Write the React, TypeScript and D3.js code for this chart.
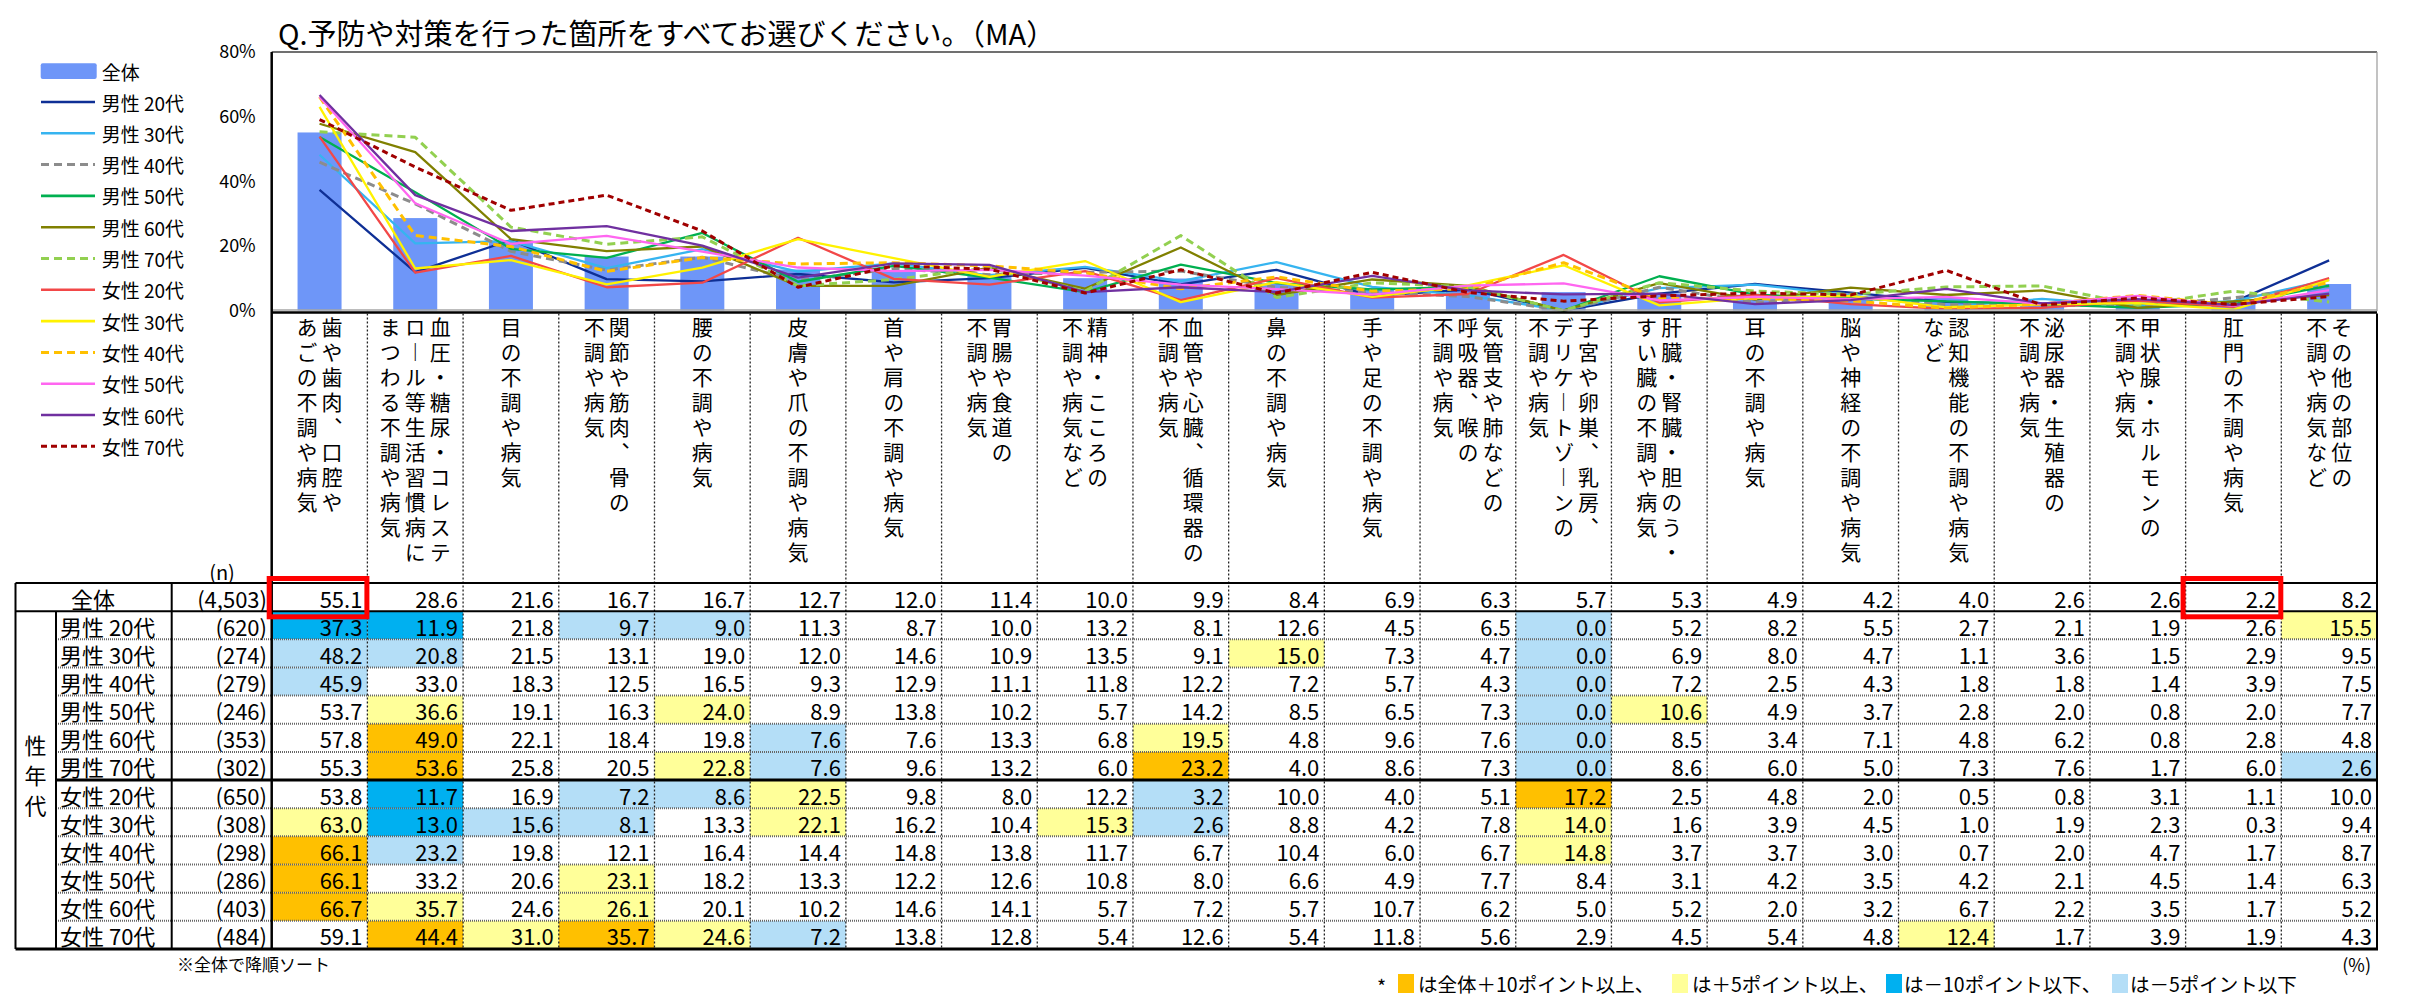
import React, { useEffect, useRef } from 'react';
import * as d3 from 'd3';

const title = 'Q.予防や対策を行った箇所をすべてお選びください。（MA）';

const categories = [
  '歯や歯肉、口腔やあごの不調や病気',
  '血圧・糖尿・コレステロール等生活習慣病にまつわる不調や病気',
  '目の不調や病気',
  '関節や筋肉、骨の不調や病気',
  '腰の不調や病気',
  '皮膚や爪の不調や病気',
  '首や肩の不調や病気',
  '胃腸や食道の不調や病気',
  '精神・こころの不調や病気など',
  '血管や心臓、循環器の不調や病気',
  '鼻の不調や病気',
  '手や足の不調や病気',
  '気管支や肺などの呼吸器、喉の不調や病気',
  '子宮や卵巣、乳房、デリケートゾーンの不調や病気',
  '肝臓・腎臓・胆のう・すい臓の不調や病気',
  '耳の不調や病気',
  '脳や神経の不調や病気',
  '認知機能の不調や病気など',
  '泌尿器・生殖器の不調や病気',
  '甲状腺・ホルモンの不調や病気',
  '肛門の不調や病気',
  'その他の部位の不調や病気など',
];

// vertical header text, one entry per written column (right to left)
const headerLines = [
  ['歯や歯肉、口腔や', 'あごの不調や病気'],
  ['血圧・糖尿・コレステ', 'ロール等生活習慣病に', 'まつわる不調や病気'],
  ['目の不調や病気'],
  ['関節や筋肉、骨の', '不調や病気'],
  ['腰の不調や病気'],
  ['皮膚や爪の不調や病気'],
  ['首や肩の不調や病気'],
  ['胃腸や食道の', '不調や病気'],
  ['精神・こころの', '不調や病気など'],
  ['血管や心臓、循環器の', '不調や病気'],
  ['鼻の不調や病気'],
  ['手や足の不調や病気'],
  ['気管支や肺などの', '呼吸器、喉の', '不調や病気'],
  ['子宮や卵巣、乳房、', 'デリケートゾーンの', '不調や病気'],
  ['肝臓・腎臓・胆のう・', 'すい臓の不調や病気'],
  ['耳の不調や病気'],
  ['脳や神経の不調や病気'],
  ['認知機能の不調や病気', 'など'],
  ['泌尿器・生殖器の', '不調や病気'],
  ['甲状腺・ホルモンの', '不調や病気'],
  ['肛門の不調や病気'],
  ['その他の部位の', '不調や病気など'],
];

const segments = [
  '男性 20代', '男性 30代', '男性 40代', '男性 50代', '男性 60代', '男性 70代',
  '女性 20代', '女性 30代', '女性 40代', '女性 50代', '女性 60代', '女性 70代',
];
const totalN = 4503;
const segmentN = [620, 274, 279, 246, 353, 302, 650, 308, 298, 286, 403, 484];

const totalValues = [55.1, 28.6, 21.6, 16.7, 16.7, 12.7, 12.0, 11.4, 10.0, 9.9, 8.4, 6.9, 6.3, 5.7, 5.3, 4.9, 4.2, 4.0, 2.6, 2.6, 2.2, 8.2];
const male20 = [37.3, 11.9, 21.8, 9.7, 9.0, 11.3, 8.7, 10.0, 13.2, 8.1, 12.6, 4.5, 6.5, 0.0, 5.2, 8.2, 5.5, 2.7, 2.1, 1.9, 2.6, 15.5];
const male30 = [48.2, 20.8, 21.5, 13.1, 19.0, 12.0, 14.6, 10.9, 13.5, 9.1, 15.0, 7.3, 4.7, 0.0, 6.9, 8.0, 4.7, 1.1, 3.6, 1.5, 2.9, 9.5];
const male40 = [45.9, 33.0, 18.3, 12.5, 16.5, 9.3, 12.9, 11.1, 11.8, 12.2, 7.2, 5.7, 4.3, 0.0, 7.2, 2.5, 4.3, 1.8, 1.8, 1.4, 3.9, 7.5];
const male50 = [53.7, 36.6, 19.1, 16.3, 24.0, 8.9, 13.8, 10.2, 5.7, 14.2, 8.5, 6.5, 7.3, 0.0, 10.6, 4.9, 3.7, 2.8, 2.0, 0.8, 2.0, 7.7];
const male60 = [57.8, 49.0, 22.1, 18.4, 19.8, 7.6, 7.6, 13.3, 6.8, 19.5, 4.8, 9.6, 7.6, 0.0, 8.5, 3.4, 7.1, 4.8, 6.2, 0.8, 2.8, 4.8];
const male70 = [55.3, 53.6, 25.8, 20.5, 22.8, 7.6, 9.6, 13.2, 6.0, 23.2, 4.0, 8.6, 7.3, 0.0, 8.6, 6.0, 5.0, 7.3, 7.6, 1.7, 6.0, 2.6];
const female20 = [53.8, 11.7, 16.9, 7.2, 8.6, 22.5, 9.8, 8.0, 12.2, 3.2, 10.0, 4.0, 5.1, 17.2, 2.5, 4.8, 2.0, 0.5, 0.8, 3.1, 1.1, 10.0];
const female30 = [63.0, 13.0, 15.6, 8.1, 13.3, 22.1, 16.2, 10.4, 15.3, 2.6, 8.8, 4.2, 7.8, 14.0, 1.6, 3.9, 4.5, 1.0, 1.9, 2.3, 0.3, 9.4];
const female40 = [66.1, 23.2, 19.8, 12.1, 16.4, 14.4, 14.8, 13.8, 11.7, 6.7, 10.4, 6.0, 6.7, 14.8, 3.7, 3.7, 3.0, 0.7, 2.0, 4.7, 1.7, 8.7];
const female50 = [66.1, 33.2, 20.6, 23.1, 18.2, 13.3, 12.2, 12.6, 10.8, 8.0, 6.6, 4.9, 7.7, 8.4, 3.1, 4.2, 3.5, 4.2, 2.1, 4.5, 1.4, 6.3];
const female60 = [66.7, 35.7, 24.6, 26.1, 20.1, 10.2, 14.6, 14.1, 5.7, 7.2, 5.7, 10.7, 6.2, 5.0, 5.2, 2.0, 3.2, 6.7, 2.2, 3.5, 1.7, 5.2];
const female70 = [59.1, 44.4, 31.0, 35.7, 24.6, 7.2, 13.8, 12.8, 5.4, 12.6, 5.4, 11.8, 5.6, 2.9, 4.5, 5.4, 4.8, 12.4, 1.7, 3.9, 1.9, 4.3];

const segmentValues = [male20, male30, male40, male50, male60, male70, female20, female30, female40, female50, female60, female70];

const yTicks = [0, 20, 40, 60, 80];
const highlighted = [0, 20]; // columns boxed in red on the 全体 row

const lineStyles = [
  { color: '#0E2F95', dash: null },
  { color: '#36B4F0', dash: null },
  { color: '#8C8C8C', dash: '8 5' },
  { color: '#00B050', dash: null },
  { color: '#808000', dash: null },
  { color: '#92D050', dash: '8 5' },
  { color: '#F24848', dash: null },
  { color: '#FFF200', dash: null },
  { color: '#FFC000', dash: '8 5' },
  { color: '#FF66F0', dash: null },
  { color: '#7030A0', dash: null },
  { color: '#A00000', dash: '6 4' },
];

const FONT = "'Noto Sans CJK JP', 'Noto Sans', sans-serif";
const W = 2433;
const H = 999;

const cellFill = (v: number, base: number) => {
  const diff = Math.round((v - base) * 10) / 10;
  if (diff >= 10.05) return '#FFC000';
  if (diff >= 5.05) return '#FFFF99';
  if (diff <= -10.05) return '#00B0F0';
  if (diff <= -5.05) return '#B4DEF7';
  return 'none';
};

const verticalForm = (s: string) => s.replace(/、/g, '︑').replace(/ー/g, '︱');

export default function App() {
  const svgRef = useRef<SVGSVGElement>(null);

  useEffect(() => {
    if (!svgRef.current) return;
    const svg = d3.select(svgRef.current);
    svg.selectAll('*').remove();
    svg.attr('font-family', FONT);

    const plotLeft = 271.7;
    const plotRight = 2377;
    const plotTop = 52;
    const plotBottom = 310.5;

    const x = d3.scaleBand<string>().domain(categories).range([plotLeft, plotRight]);
    const bw = x.bandwidth();
    const cx = (i: number) => (x(categories[i]) as number) + bw / 2;
    const y = d3.scaleLinear().domain([0, 80]).range([plotBottom, plotTop]);

    svg.append('rect').attr('width', W).attr('height', H).attr('fill', '#fff');

    // title
    svg.append('text')
      .attr('x', 278).attr('y', 32)
      .attr('dominant-baseline', 'central')
      .attr('font-size', 29)
      .text(title);

    // bars
    svg.append('g').selectAll('rect')
      .data(totalValues)
      .join('rect')
      .attr('x', (_, i) => cx(i) - 22)
      .attr('width', 44)
      .attr('y', d => y(d))
      .attr('height', d => y(0) - y(d))
      .attr('fill', '#6E96F8');

    // lines
    const line = d3.line<number>()
      .x((_, i) => cx(i))
      .y(d => y(d));

    segmentValues.forEach((vals, k) => {
      const st = lineStyles[k];
      svg.append('path')
        .datum(vals)
        .attr('d', line)
        .attr('fill', 'none')
        .attr('stroke', st.color)
        .attr('stroke-width', st.dash ? 3 : 2.3)
        .attr('stroke-dasharray', st.dash)
        .attr('stroke-linejoin', 'round');
    });

    // plot frame
    svg.append('line').attr('x1', plotLeft).attr('x2', plotRight).attr('y1', plotTop).attr('y2', plotTop)
      .attr('stroke', '#404040').attr('stroke-width', 1.7);
    svg.append('line').attr('x1', plotRight).attr('x2', plotRight).attr('y1', plotTop).attr('y2', 311)
      .attr('stroke', '#9A9A9A').attr('stroke-width', 1.2);
    svg.append('line').attr('x1', plotLeft).attr('x2', plotRight).attr('y1', 310).attr('y2', 310)
      .attr('stroke', '#A6A6A6').attr('stroke-width', 1.5);
    svg.append('line').attr('x1', plotLeft).attr('x2', plotRight).attr('y1', 312.4).attr('y2', 312.4)
      .attr('stroke', '#000').attr('stroke-width', 2.5);

    // y axis
    const yAxis = svg.append('g')
      .attr('transform', `translate(${plotLeft},0)`)
      .call(d3.axisLeft(y).tickValues(yTicks).tickSize(0).tickPadding(16).tickFormat(d => `${d}%`));
    yAxis.select('.domain').remove();
    yAxis.selectAll('text').attr('font-size', 18).attr('font-family', FONT).attr('fill', '#000');

    // legend
    const lg = svg.append('g');
    lg.append('rect').attr('x', 40.7).attr('y', 63.3).attr('width', 56).attr('height', 15.7).attr('rx', 2)
      .attr('fill', '#6E96F8');
    lg.append('text').attr('x', 101.7).attr('y', 71.5).attr('dominant-baseline', 'central')
      .attr('font-size', 19).text('全体');
    segments.forEach((s, k) => {
      const st = lineStyles[k];
      const ly = 102 + k * 31.3;
      lg.append('line').attr('x1', 41).attr('x2', 95).attr('y1', ly).attr('y2', ly)
        .attr('stroke', st.color).attr('stroke-width', st.dash ? 3 : 2.6)
        .attr('stroke-dasharray', st.dash);
      lg.append('text').attr('x', 101.7).attr('y', ly).attr('dominant-baseline', 'central')
        .attr('font-size', 19).text(s);
    });

    // header vertical labels: one vertical text per written column
    const hg = svg.append('g').attr('font-size', 21);
    headerLines.forEach((lines, i) => {
      const k = lines.length;
      lines.forEach((ln, j) => {
        const sx = cx(i) + ((k - 1) / 2 - j) * 25;
        hg.append('text')
          .attr('x', sx).attr('y', 316.5)
          .style('writing-mode', 'vertical-rl')
          .style('text-orientation', 'upright')
          .style('letter-spacing', '4px')
          .text(verticalForm(ln));
      });
    });

    svg.append('text').attr('x', 222).attr('y', 571).attr('text-anchor', 'middle')
      .attr('dominant-baseline', 'central').attr('font-size', 20).text('(n)');

    // table
    const tableTop = 583;
    const rowH = 28.15;
    const tableBottom = tableTop + rowH * 13;
    const rowY = (r: number) => tableTop + r * rowH;
    const fmtN = d3.format(',');
    const rows = [
      { label: '全体', n: totalN, values: totalValues },
      ...segments.map((s, k) => ({ label: s, n: segmentN[k], values: segmentValues[k] })),
    ];

    const tg = svg.append('g').attr('font-size', 22);
    rows.forEach((row, r) => {
      const ty = rowY(r);
      const my = ty + rowH / 2 + 0.5;
      if (r > 0) {
        row.values.forEach((v, i) => {
          const f = cellFill(v, totalValues[i]);
          if (f !== 'none') {
            tg.append('rect').attr('x', x(categories[i]) as number).attr('y', ty)
              .attr('width', bw).attr('height', rowH).attr('fill', f);
          }
        });
      }
      if (r === 0) {
        tg.append('text').attr('x', 93).attr('y', my).attr('text-anchor', 'middle')
          .attr('dominant-baseline', 'central').text(row.label);
      } else {
        tg.append('text').attr('x', 60).attr('y', my)
          .attr('dominant-baseline', 'central').text(row.label);
      }
      tg.append('text').attr('x', 267).attr('y', my).attr('text-anchor', 'end')
        .attr('dominant-baseline', 'central').text(`(${fmtN(row.n)})`);
      row.values.forEach((v, i) => {
        tg.append('text').attr('x', (x(categories[i]) as number) + bw - 5).attr('y', my)
          .attr('text-anchor', 'end').attr('dominant-baseline', 'central')
          .text(v.toFixed(1));
      });
    });

    // 性年代
    svg.append('text').attr('x', 35.5).attr('y', 735).attr('font-size', 22)
      .style('writing-mode', 'vertical-rl')
      .style('text-orientation', 'upright')
      .style('letter-spacing', '8px')
      .text('性年代');

    const lines = svg.append('g');
    const hline = (x1: number, x2: number, yy: number, w: number, dash?: string, color = '#000') =>
      lines.append('line').attr('x1', x1).attr('x2', x2).attr('y1', yy).attr('y2', yy)
        .attr('stroke', color).attr('stroke-width', w).attr('stroke-dasharray', dash || null);
    const vline = (xx: number, y1: number, y2: number, w: number, dash?: string, color = '#000') =>
      lines.append('line').attr('x1', xx).attr('x2', xx).attr('y1', y1).attr('y2', y2)
        .attr('stroke', color).attr('stroke-width', w).attr('stroke-dasharray', dash || null);

    // column separators (dotted)
    categories.slice(1).forEach(c => {
      vline(x(c) as number, 313.6, tableBottom, 1.3, '2 2', '#222');
    });
    // row separators
    for (let r = 2; r <= 12; r++) {
      if (r === 7) continue;
      hline(56, plotRight, rowY(r), 2, '1 1', '#666');
    }
    hline(15.5, plotRight, tableTop, 2);
    hline(15.5, plotRight, rowY(1), 2);
    hline(56, plotRight, rowY(7), 3);
    hline(15.5, plotRight + 1, tableBottom, 3);
    vline(15.5, tableTop, tableBottom, 2);
    vline(56, rowY(1), tableBottom, 2);
    vline(171.7, tableTop, tableBottom, 2);
    vline(plotLeft, plotTop, tableBottom, 2.5);
    vline(plotRight, 313.6, tableBottom, 2);

    // red highlight boxes
    highlighted.forEach(i => {
      svg.append('rect')
        .attr('x', (x(categories[i]) as number) - 2.5).attr('y', 578.5)
        .attr('width', bw + 2).attr('height', 38.3)
        .attr('fill', 'none').attr('stroke', '#FF0000').attr('stroke-width', 5);
    });

    // notes
    svg.append('text').attr('x', 177).attr('y', 963).attr('dominant-baseline', 'central')
      .attr('font-size', 17).text('※全体で降順ソート');
    svg.append('text').attr('x', 2371).attr('y', 964).attr('text-anchor', 'end')
      .attr('dominant-baseline', 'central').attr('font-size', 18).text('(%)');

    const ng = svg.append('g').attr('font-size', 19.5);
    const noteY = 983;
    ng.append('text').attr('x', 1377).attr('y', noteY + 2).attr('dominant-baseline', 'central').text('*');
    const keys = [
      { fill: '#FFC000', bx: 1398, tx: 1418, text: 'は全体＋10ポイント以上、' },
      { fill: '#FFFF99', bx: 1672, tx: 1692, text: 'は＋5ポイント以上、' },
      { fill: '#00B0F0', bx: 1886, tx: 1904, text: 'は－10ポイント以下、' },
      { fill: '#B4DEF7', bx: 2112, tx: 2130, text: 'は－5ポイント以下' },
    ];
    keys.forEach(k => {
      ng.append('rect').attr('x', k.bx).attr('y', 974).attr('width', 16).attr('height', 19).attr('fill', k.fill);
      ng.append('text').attr('x', k.tx).attr('y', noteY).attr('dominant-baseline', 'central').text(k.text);
    });
  }, []);

  return (
    <div style={{ position: 'absolute', left: 0, top: 0 }}>
      <svg ref={svgRef} width={W} height={H} style={{ display: 'block' }} />
    </div>
  );
}
